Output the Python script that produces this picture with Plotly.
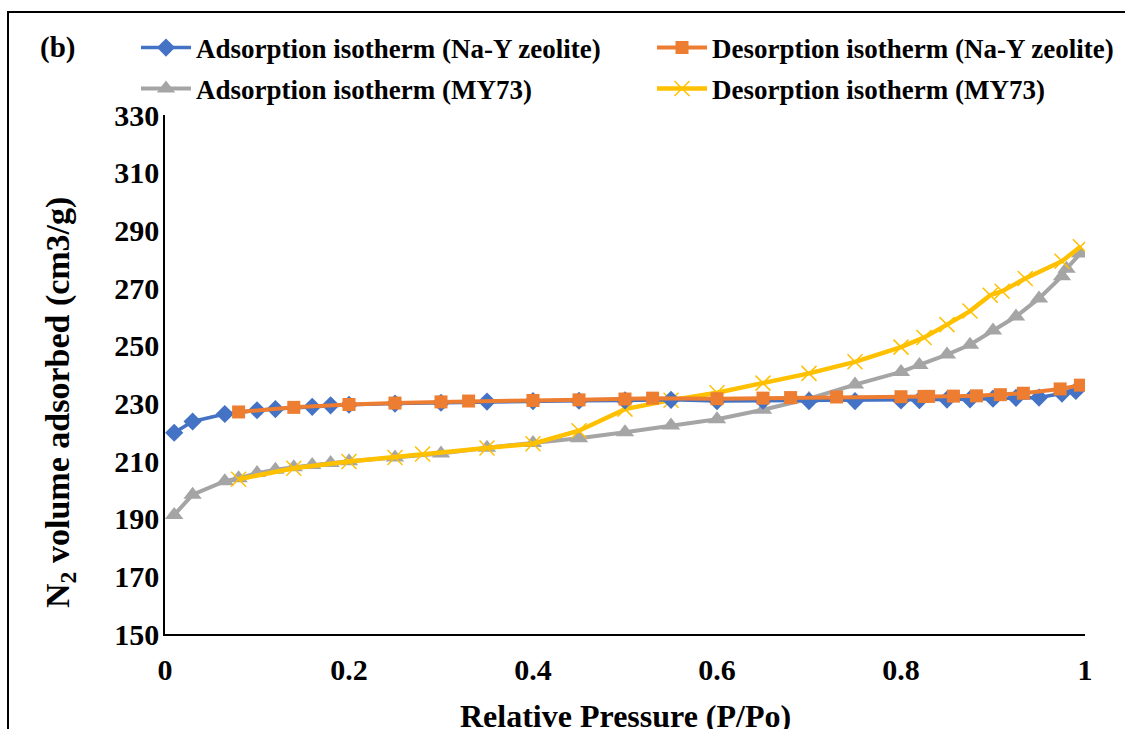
import plotly.graph_objects as go

# Nitrogen isotherms: relative pressure (P/Po) vs. volume adsorbed (cm3/g)
ads_nay_p = [0.01, 0.03, 0.065, 0.10, 0.12, 0.16, 0.18, 0.20, 0.25, 0.30, 0.35, 0.40,
             0.45, 0.50, 0.55, 0.60, 0.65, 0.70, 0.75, 0.80, 0.82, 0.85, 0.875, 0.90,
             0.925, 0.95, 0.975, 0.99]
ads_nay_v = [219.8, 223.7, 226.3, 227.6, 228.0, 228.8, 229.3, 229.5, 229.9, 230.2, 230.6, 230.8,
             230.9, 231.0, 231.2, 230.8, 230.9, 230.8, 230.8, 231.0, 231.1, 231.3, 231.4, 231.6,
             231.9, 232.0, 233.4, 234.3]

des_nay_p = [0.995, 0.973, 0.933, 0.908, 0.882, 0.857, 0.83, 0.825, 0.80, 0.73, 0.68, 0.65,
             0.60, 0.53, 0.50, 0.45, 0.40, 0.33, 0.30, 0.25, 0.20, 0.14, 0.08]
des_nay_v = [236.3, 235.0, 233.5, 233.0, 232.6, 232.5, 232.4, 232.4, 232.3, 232.2, 232.0, 231.8,
             231.6, 231.8, 231.5, 231.2, 231.0, 230.8, 230.5, 230.1, 229.6, 228.6, 227.0]

ads_my_p = [0.01, 0.03, 0.065, 0.08, 0.10, 0.12, 0.14, 0.16, 0.18, 0.20, 0.25, 0.30, 0.35,
            0.40, 0.45, 0.50, 0.55, 0.60, 0.65, 0.70, 0.75, 0.80, 0.82, 0.85, 0.875, 0.90,
            0.925, 0.95, 0.975, 0.98, 0.995]
ads_my_v = [191.3, 198.3, 203.0, 204.0, 205.8, 207.0, 207.8, 208.6, 209.3, 209.9, 211.2, 212.6, 214.6,
            216.2, 217.9, 220.0, 222.3, 224.5, 227.8, 231.6, 236.5, 240.9, 243.3, 246.9, 250.3, 255.3,
            260.1, 266.4, 274.1, 276.7, 282.0]

des_my_p = [0.995, 0.975, 0.935, 0.91, 0.897, 0.875, 0.85, 0.825, 0.80, 0.75, 0.70, 0.65,
            0.60, 0.55, 0.50, 0.45, 0.40, 0.35, 0.28, 0.25, 0.20, 0.14, 0.08]
des_my_v = [284.3, 279.3, 273.3, 268.9, 267.5, 262.0, 257.3, 252.8, 249.5, 244.4, 240.4, 237.0,
            233.7, 231.1, 228.0, 220.5, 216.0, 214.5, 212.4, 211.2, 209.8, 207.5, 203.7]

x_ticks = [0, 0.2, 0.4, 0.6, 0.8, 1]
x_tick_text = ["0", "0.2", "0.4", "0.6", "0.8", "1"]
y_ticks = [150, 170, 190, 210, 230, 250, 270, 290, 310, 330]

FONT = "Liberation Serif"
BLUE, ORANGE, GRAY, GOLD = "#4472C4", "#ED7D31", "#A5A5A5", "#FFC000"

# plot-area geometry in pixels
L, R, T, B = 165, 40, 115, 95
W, H = 1125 - L - R, 729 - T - B


def px_x(px):
    return (px - L) / W


def px_y(py):
    return (729 - B - py) / H


fig = go.Figure()
fig.add_trace(go.Scatter(
    x=ads_my_p, y=ads_my_v, mode="lines+markers", name="Adsorption isotherm (MY73)",
    line=dict(color=GRAY, width=4), marker=dict(symbol="triangle-up", size=16, color=GRAY),
    legend="legend2"))
fig.add_trace(go.Scatter(
    x=des_my_p, y=des_my_v, mode="lines+markers", name="Desorption isotherm (MY73)",
    line=dict(color=GOLD, width=4.5),
    marker=dict(symbol="x-thin", size=15, color=GOLD, line=dict(color=GOLD, width=1.5)),
    legend="legend2"))
fig.add_trace(go.Scatter(
    x=ads_nay_p, y=ads_nay_v, mode="lines+markers", name="Adsorption isotherm (Na-Y zeolite)",
    line=dict(color=BLUE, width=3.5), marker=dict(symbol="diamond", size=14, color=BLUE),
    legend="legend"))
fig.add_trace(go.Scatter(
    x=des_nay_p, y=des_nay_v, mode="lines+markers", name="Desorption isotherm (Na-Y zeolite)",
    line=dict(color=ORANGE, width=4), marker=dict(symbol="square", size=13, color=ORANGE),
    legend="legend"))

legend_common = dict(
    orientation="h", xanchor="left", yanchor="middle", x=px_x(136),
    font=dict(family=FONT, size=27, color="black", weight="bold"),
    entrywidth=451, entrywidthmode="pixels", itemwidth=50,
    bgcolor="rgba(0,0,0,0)", traceorder="normal",
)

fig.update_layout(
    width=1125, height=729,
    margin=dict(l=L, r=R, t=T, b=B, autoexpand=False),
    paper_bgcolor="white", plot_bgcolor="white",
    font=dict(family=FONT, color="black"),
    showlegend=True,
    legend=dict(**legend_common, y=px_y(48)),
    legend2=dict(**legend_common, y=px_y(89)),
    xaxis=dict(
        range=[0, 1], tickvals=x_ticks, ticktext=x_tick_text,
        showgrid=False, zeroline=False, showline=True, linecolor="black", linewidth=1.5,
        ticks="", ticklabelstandoff=8,
        tickfont=dict(family=FONT, size=30, color="black", weight="bold"),
    ),
    yaxis=dict(
        range=[150, 330], tickvals=y_ticks,
        showgrid=False, zeroline=False, showline=True, linecolor="black", linewidth=1.5,
        ticks="", ticklabelstandoff=-2,
        tickfont=dict(family=FONT, size=30, color="black", weight="bold"),
    ),
    annotations=[
        dict(text="<b>(b)</b>", xref="paper", yref="paper",
             x=px_x(57), y=px_y(48), xanchor="center", yanchor="middle",
             showarrow=False, font=dict(family=FONT, size=29, color="black")),
        dict(text="<b>Relative Pressure (P/Po)</b>", xref="paper", yref="paper",
             x=px_x(625), y=px_y(716), xanchor="center", yanchor="middle",
             showarrow=False, font=dict(family=FONT, size=32, color="black")),
        dict(text="<b>N<sub>2</sub> volume adsorbed (cm3/g)</b>", xref="paper", yref="paper",
             x=px_x(60), y=px_y(403), xanchor="center", yanchor="middle", textangle=-90,
             showarrow=False, font=dict(family=FONT, size=34, color="black")),
    ],
    shapes=[dict(
        type="path", xref="paper", yref="paper",
        path=f"M {px_x(8)},{px_y(800)} L {px_x(8)},{px_y(12)} L {px_x(1140)},{px_y(12)}",
        line=dict(color="black", width=2))],
)

fig.write_html("out.html")
